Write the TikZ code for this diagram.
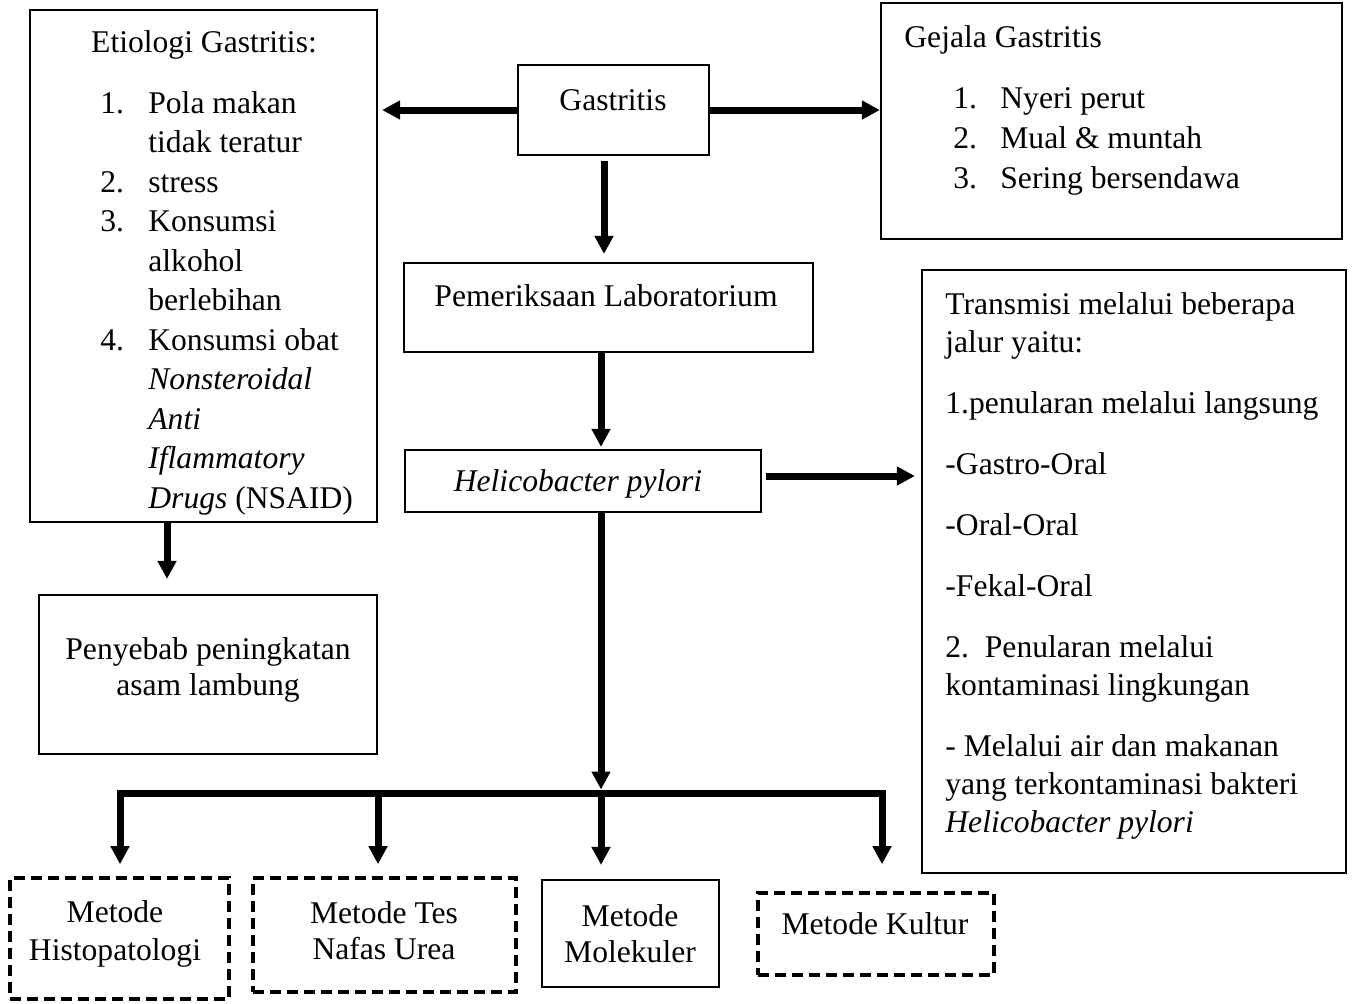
\documentclass[tikz,border=0pt]{standalone}
\usepackage{fontspec}
\setmainfont{Liberation Serif}
\usetikzlibrary{arrows.meta,positioning,fit}
\tikzset{box/.style={draw, line width=1.1pt, inner sep=0pt},
	dashbox/.style={draw, line width=1.8pt, dash pattern=on 5.5pt off 3pt, inner sep=0pt},
	txt/.style={inner sep=0pt, font=\fontsize{15.8pt}{19.75pt}\selectfont},
	flow/.style={line width=3.5pt, -{Triangle[length=9pt,width=9pt]}}}

\begin{document}
\begin{tikzpicture}[x=0.5pt, y=-0.5pt]
	\useasboundingbox (0,0) rectangle (1353,1003);
	% kotak
	\node[box, fit={(30,10) (377,522)}] (etio) {};
	\node[box, fit={(518,65) (709,155)}] (gast) {};
	\node[box, fit={(881,3) (1342,239)}] (gejala) {};
	\node[box, fit={(404,263) (813,352)}] (lab) {};
	\node[box, fit={(405,450) (761,512)}] (hpylori) {};
	\node[box, fit={(922,270) (1346,873)}] (transmisi) {};
	\node[box, fit={(39,595) (377,754)}] (asam) {};
	\node[dashbox, fit={(10,878) (229,999)}] (histo) {};
	\node[dashbox, fit={(253,878) (516,992)}] (urea) {};
	\node[box, fit={(542,880) (719,987)}] (molek) {};
	\node[dashbox, fit={(758,893) (994,975)}] (kultur) {};
	
	% teks
	\node[txt, anchor=base] (etiot) at (204,52) {Etiologi Gastritis:};
	\node[txt, anchor=base west] (etiol) at (100,113) {\begin{tabular}[t]{@{}p{24pt}@{}l@{}}
			1. & Pola makan\\ & tidak teratur\\ 2. & stress\\ 3. & Konsumsi\\ & alkohol\\ & berlebihan\\
			4. & Konsumsi obat\\ & \textit{Nonsteroidal}\\ & \textit{Anti}\\ & \textit{Iflammatory}\\ & \textit{Drugs} (NSAID)
		\end{tabular}};
	\node[txt, anchor=base] (gastt) at (613,110) {Gastritis};
	\node[txt, anchor=base west] (gejt) at (904,47) {Gejala Gastritis};
	\node[txt, anchor=base west, font=\fontsize{15.8pt}{20pt}\selectfont] (gejl) at (953,108) {\begin{tabular}[t]{@{}p{23.5pt}@{}l@{}}
			1. & Nyeri perut\\ 2. & Mual \& muntah\\ 3. & Sering bersendawa
		\end{tabular}};
	\node[txt, anchor=base] (labt) at (606,306) {Pemeriksaan Laboratorium};
	\node[txt, anchor=base] (hpt) at (578,491) {\textit{Helicobacter pylori}};
	\node[txt, anchor=base west, font=\fontsize{15.8pt}{19pt}\selectfont] (transt) at (945,314) {\begin{tabular}[t]{@{}l@{}}
			Transmisi melalui beberapa\\ jalur yaitu:\\[11.5pt]
			1.penularan melalui langsung\\[11.5pt]
			-Gastro-Oral\\[11.5pt]
			-Oral-Oral\\[11.5pt]
			-Fekal-Oral\\[11.5pt]
			2.\enspace Penularan melalui\\ kontaminasi lingkungan\\[11.5pt]
			- Melalui air dan makanan\\ yang terkontaminasi bakteri\\ \textit{Helicobacter pylori}
		\end{tabular}};
	\node[txt, anchor=base, font=\fontsize{15.8pt}{18pt}\selectfont] (asamt) at (208,659) {\begin{tabular}[t]{@{}c@{}}
			Penyebab peningkatan\\ asam lambung\end{tabular}};
	\node[txt, anchor=base, font=\fontsize{15.8pt}{19pt}\selectfont] (histot) at (115,922) {\begin{tabular}[t]{@{}c@{}}
			Metode\\ Histopatologi\end{tabular}};
	\node[txt, anchor=base, font=\fontsize{15.8pt}{18pt}\selectfont] (ureat) at (384,923) {\begin{tabular}[t]{@{}c@{}}
			Metode Tes\\ Nafas Urea\end{tabular}};
	\node[txt, anchor=base, font=\fontsize{15.8pt}{18pt}\selectfont] (molekt) at (630,926) {\begin{tabular}[t]{@{}c@{}}
			Metode\\ Molekuler\end{tabular}};
	\node[txt, anchor=base] (kulturt) at (875,934) {Metode Kultur};
	
	% panah
	\coordinate (gdown) at ([xshift=-4.75pt]gast.south);
	\coordinate (edown) at ([xshift=-18.25pt]etio.south);
	\coordinate (hright) at ([yshift=2.5pt]hpylori.east);
	\coordinate (spine) at (601,793);
	\coordinate (busl) at (120,793);
	\coordinate (busu) at (378,793);
	\coordinate (busr) at (882,793);
	\draw[flow, shorten >=2pt] (gast.west) -- (gast.west -| etio.east);
	\draw[flow] (gast.east) -- (gast.east -| gejala.west);
	\draw[flow, shorten <=2.5pt, shorten >=4pt] (gdown) -- (gdown |- lab.north);
	\draw[flow, shorten >=1pt] (spine |- lab.south) -- (spine |- hpylori.north);
	\draw[flow, shorten <=2pt, shorten >=3pt] (hright) -- (hright -| transmisi.west);
	\draw[flow, shorten >=7.5pt] (edown) -- (edown |- asam.north);
	\draw[flow, shorten >=1.75pt] (spine |- hpylori.south) -- (spine);
	\draw[line width=3.5pt, line cap=rect] (busl) -- (busr);
	\draw[flow, shorten >=6pt] (busl) -- (busl |- histo.north);
	\draw[flow, shorten >=6pt] (busu) -- (busu |- urea.north);
	\draw[flow, shorten >=7pt] (spine) -- (spine |- molek.north);
	\draw[flow, shorten >=13.5pt] (busr) -- (busr |- kultur.north);
\end{tikzpicture}
\end{document}
